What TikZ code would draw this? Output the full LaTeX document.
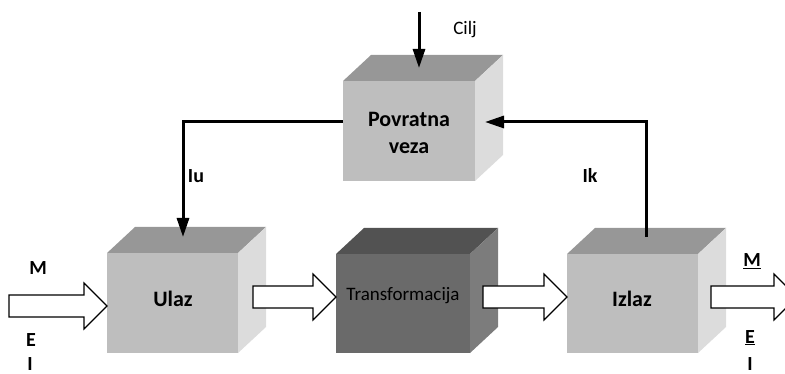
\documentclass[tikz,border=0pt]{standalone}
\usepackage{fontspec}
\setmainfont{Carlito}
\usetikzlibrary{calc,arrows.meta}

% front face of a cube as a node, plus its top and right faces
\newcommand\drawcube[8]{%
  \node[face=#6, minimum width=#4pt, minimum height=#5pt] (#1) at (#2,#3) {};
  \fill[#7] (#1.north west) -- ++(28,-26) -- ++(#4,0) -- (#1.north east) -- cycle;
  \fill[#8] (#1.north east) -- ++(28,-26) -- ++(0,#5) -- (#1.south east) -- cycle;
}
% hollow block arrow from #1 to the tip #2 (horizontal)
\newcommand\fatarrow[2]{%
  \draw[fat] let \p1=(#1), \p2=(#2) in
    (\x1,\y1+11pt) -- (\x2-23pt,\y1+11pt) -- (\x2-23pt,\y1+23pt) -- (\x2,\y1)
    -- (\x2-23pt,\y1-23pt) -- (\x2-23pt,\y1-11pt) -- (\x1,\y1-11pt) -- cycle;
}

\definecolor{lfront}{HTML}{BEBEBE}
\definecolor{ltop}{HTML}{979797}
\definecolor{lside}{HTML}{DCDCDC}
\definecolor{dfront}{HTML}{6A6A6A}
\definecolor{dtop}{HTML}{525252}
\definecolor{dside}{HTML}{7C7C7C}

\begin{document}
\begin{tikzpicture}[x=1pt,y=-1pt,
  face/.style={draw=none,fill=#1,inner sep=0pt,outer sep=0pt,anchor=north west},
  fat/.style={draw=black,fill=white,line width=1.2pt,line join=miter},
  sig/.style={draw=black,line width=3pt,-{Triangle[length=19pt,width=12pt]}},
  line/.style={draw=black,line width=3pt},
  boxtext/.style={font=\fontsize{22}{27}\selectfont\bfseries,anchor=base,inner sep=0pt},
  lbl/.style={font=\fontsize{20}{24}\selectfont\bfseries,anchor=base,inner sep=0pt},
  thin/.style={font=\fontsize{19}{23}\selectfont,anchor=base,inner sep=0pt}]
\useasboundingbox (0,0) rectangle (785,374);
\clip (0,0) rectangle (785,374);

% cubes
\drawcube{ulaz}{107}{253}{131}{100}{lfront}{ltop}{lside}
\drawcube{transf}{336}{254}{134}{99}{dfront}{dtop}{dside}
\drawcube{izlaz}{567}{254}{131}{99}{lfront}{ltop}{lside}
\drawcube{povr}{343}{81}{132}{100}{lfront}{ltop}{lside}

% cube captions
\node[boxtext] (ulaz-t) at (173,306) {Ulaz};
\node[thin] (transf-t) at (403,301) {Transformacija};
\node[boxtext] (izlaz-t) at (632,306) {Izlaz};
\node[boxtext] (povr-t1) at (409,127) {Povratna};
\node[boxtext] (povr-t2) at (409,154) {veza};

% material / energy / information flow
\coordinate (in-s) at (9,306);
\coordinate (in-e) at (ulaz.west |- in-s);
\coordinate (m1-s) at (253,297);
\coordinate (m1-e) at (transf.west |- m1-s);
\coordinate (m2-s) at (483,297);
\coordinate (m2-e) at (izlaz.west |- m2-s);
\coordinate (out-s) at (711,297);
\coordinate (out-e) at (797,297);
\fatarrow{in-s}{in-e}
\fatarrow{m1-s}{m1-e}
\fatarrow{m2-s}{m2-e}
\fatarrow{out-s}{out-e}

% feedback loop
\coordinate (cilj-s) at (419,12);
\coordinate (cilj-e) at (419,68);
\draw[sig] (cilj-s) -- (cilj-e);
\coordinate (ik-s) at (646,237);
\coordinate (fb-r) at (485,122);
\draw[sig] (ik-s) |- (fb-r);
\coordinate (fb-l) at (povr.west |- fb-r);
\coordinate (iu-e) at (183,237);
\draw[sig] (fb-l) -| (iu-e);

% labels
\node[thin] (cilj) at (465,35) {Cilj};
\node[lbl] (iu) at (196,183) {Iu};
\node[lbl] (ik) at (590,183) {Ik};
\node[lbl] (m-in) at (38,275) {M};
\node[lbl] (e-in) at (31,346) {E};
\node[lbl] (i-in) at (30,370) {I};
\node[lbl] (m-out) at (752,267) {\underline{M}};
\node[lbl] (e-out) at (750,343) {\underline{E}};
\node[lbl] (i-out) at (750,370) {I};
\end{tikzpicture}
\end{document}
